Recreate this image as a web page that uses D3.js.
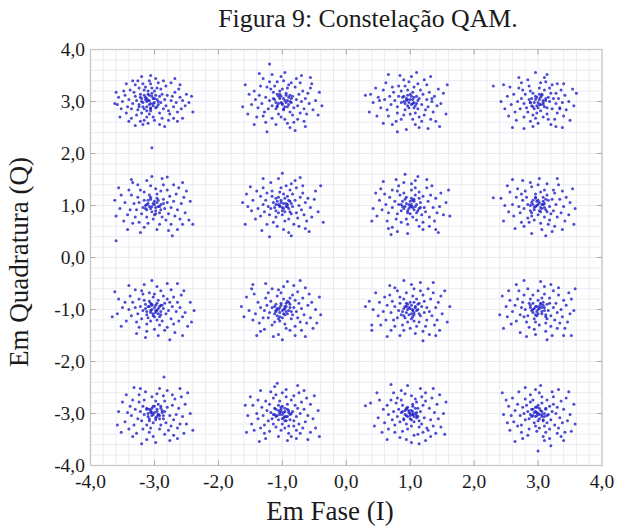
<!DOCTYPE html>
<html>
<head>
<meta charset="utf-8">
<script src="https://cdn.jsdelivr.net/npm/d3@7"></script>
<style>
  body { margin: 0; background: #fff; }
  svg text { font-family: "Liberation Serif", "Times New Roman", serif; fill: #1a1a1a; }
</style>
</head>
<body>
<svg id="chart" width="618" height="528"></svg>
<script>
// constellation levels and axis ticks
const iLevels = [-3, -1, 1, 3]
const qLevels = [3, 1, -1, -3]
const majorTicks = [-4, -3, -2, -1, 0, 1, 2, 3, 4]

// received symbols around each ideal point, as (dI, dQ) pairs in hundredths
const n_m3_p3 = [-10,2, -6,-4, -14,8, -2,6, -18,-2, -8,12, -12,-10, 0,-2, -4,16, -20,6, -16,-14, 4,4, -24,-6, -10,20, 2,-12, -6,-18, 8,10, -22,14, -28,2, 6,-6, -12,0, -2,-8, -16,22, 10,-2, -26,-16, -8,-24, 12,14, -30,10, 14,-14, -4,26, -20,-22, 16,4, -34,-4, 0,20, -14,28, 18,-8, -32,18, 8,-22, -2,-30, 20,12, -36,-14, -24,26, 22,-18, -12,-30, 4,26, 26,2, -40,4, 10,24, -28,-26, 24,-24, -18,34, 28,10, -6,34, -38,22, 30,-10, -16,-36, 12,-32, -42,-10, 32,18, -30,32, 0,-36, 34,-2, -46,12, 18,30, -22,-38, 36,-20, -8,40, -44,-22, 6,36, 40,8, -36,-32, 22,-36, -26,40, 42,-14, -50,0, 14,40, -10,-42, 38,24, -48,20, 30,-32, -52,-14, 44,2, -34,40, 2,44, -18,-44, 48,-8, -56,8, 26,36, -40,-38, 50,14, 8,-44, -58,-6, 36,-38, -44,34, 54,-2, -20,48, 16,-48, -60,18, 58,10, -30,-46, 40,32, -6,50, -54,-30, 60,-20, 44,-32, -62,-4, 32,44, -4,-89, -24,-10, 2,12, -12,6, -6,-12,
  -8,-6, -14,4, -4,10, -18,-10, 0,6, -10,14, -20,0, -6,-14, 6,0, -16,12, -2,-4, -12,-18, 4,-10, -22,8, -8,2]
const n_m1_p3 = [4,2, -6,-4, 10,8, -2,10, 8,-10, -12,4, 0,-6, 14,-2, -8,14, 6,16, -16,-8, 2,-16, 16,10, -10,-14, 18,-12, -4,20, 12,-20, -20,2, 22,4, -14,18, 0,24, 24,-8, -22,-14, 8,26, -6,-24, 26,14, -26,8, 16,-26, -18,24, 30,0, -2,-30, 10,32, -28,-20, 28,-22, -12,30, 32,20, -32,-4, 20,28, 4,-34, -24,28, 34,-14, -16,-32, 14,36, -36,12, 36,6, -30,-28, 24,-34, -8,38, 38,-24, -38,-12, 2,40, 40,16, -20,38, 18,-40, -42,4, 28,36, -34,30, 42,-4, -26,-40, 8,-42, -44,20, 44,26, -10,-44, 34,-38, -40,-30, 22,44, 48,-16, -48,-6, -2,48, 46,34, -30,44, 12,-50, -52,14, 52,2, -16,52, 36,-48, -54,-24, 30,50, 56,-26, -44,-44, 4,56, -58,32, 58,18, 20,-56, -62,-10, 62,-8, -24,-58, 44,46, -36,54, -20,72, 6,-2, -4,6, 12,0, -8,-10,
  2,6, -2,-2, 8,2, -6,10, 10,-6, -10,-2, 4,-10, 14,6, -4,14, 0,-4, 6,12, -8,-8, 12,12, -14,6, 2,-14]
const n_1_p3 = [-6,2, 2,-6, -10,10, 6,8, -2,-12, 10,-4, -14,-2, 0,14, 14,6, -8,-16, 4,18, -18,10, 12,-14, -4,22, 18,-6, -20,-10, 8,-22, 20,14, -14,20, -24,2, 0,-24, 16,22, 24,-16, -10,-26, 26,4, -26,18, 6,28, -20,-22, 28,-10, -8,30, 14,-30, -30,-6, 30,18, -18,30, 22,-26, -32,10, 4,-34, 34,0, -14,-34, 12,34, -36,-16, 36,-20, -28,28, 26,32, -2,38, -34,-28, 38,10, 18,-38, -40,4, -22,-38, 32,-34, -10,42, 42,-8, -42,22, 8,-44, 22,42, -38,36, 44,24, -46,-12, -28,-44, 40,-38, 2,48, -50,8, 48,-4, 14,-50, -16,50, -52,-28, 52,16, 32,48, -42,-42, -54,26, 28,-52, 56,-24, -6,-54, -58,-2, 10,56, -34,52, 58,32, -62,14, 46,-48, -64,-20, -20,-58, -70,12, -48,2, 34,6, -4,4, 6,-2,
  -2,-2, 4,4, -6,6, 8,-8, -10,0, 2,10, 10,10, -4,-8, 6,-12, -12,8, 0,4, -8,-4, 12,2, 4,-4, -4,12]
const n_3_p3 = [2,4, -6,-2, 8,-6, -4,10, 12,6, -10,-8, 0,-12, 6,14, -14,4, 14,-12, -8,16, 18,0, -18,-12, 4,-18, 20,16, -12,20, -22,-4, 10,22, 22,-14, -2,-22, -20,14, 24,6, -16,-20, 14,-24, 2,26, -26,6, 28,-4, -8,-26, 18,26, -24,22, 28,16, -28,-14, 8,-30, 30,-22, -14,30, -32,0, 22,32, 32,6, -4,-32, -22,-30, 16,-34, 34,-12, -30,26, 4,36, 36,22, -36,-20, 26,-34, -12,-38, -38,14, 38,-2, 12,38, -26,36, 40,-28, -42,-6, 30,34, 0,-42, -34,-36, 42,12, -16,42, 20,-44, -44,28, 44,-16, 40,34, -46,-28, 10,46, -8,-48, 48,0, -48,10, 28,-48, -30,46, 50,-36, -52,-14, 14,52, -22,-52, 54,24, -54,32, 38,-50, -4,56, -58,0, 56,-8, -40,-50, 34,-14, -70,30, 60,16, -12,-2, 8,2, -2,8, 2,-6,
  0,-2, 4,8, -4,4, 8,-2, -8,-10, 6,12, 10,-10, -2,-8, -10,6, 2,14, 12,2, -6,-14, 4,-6, -12,-2, 16,8]
const n_m3_p1 = [-4,-2, 4,6, -10,4, 2,-10, -12,-8, 10,2, -6,12, 8,-14, -16,10, 14,12, -18,-4, 0,-18, 16,-6, -8,20, -20,-16, 20,6, 4,22, -24,6, 12,-22, -12,-22, 22,-16, -26,16, 24,18, -2,-26, -28,-8, 10,28, -16,26, 26,-4, 18,-28, -30,-22, 30,8, -22,30, 2,32, -32,4, 32,-20, -10,-34, 20,30, -36,20, 34,22, -24,-32, 8,-36, 36,-8, -38,-8, -6,38, 26,-36, 38,34, -34,-34, 40,-26, -40,30, 14,40, -42,-18, -16,-42, 42,4, -26,40, 44,-36, -46,6, 30,40, 4,-46, 46,16, -34,44, -48,-30, 22,-48, 48,-14, -12,48, -52,20, 50,28, -22,-52, 36,-46, -54,-6, 12,52, 54,-28, -56,34, 56,8, -42,-46, 44,44, -60,-20, -4,56, 60,-36, 20,55, -36,50, -62,10, -60,-68, 28,-58, -6,-6, 6,-2, 0,8, -14,0,
  -2,4, 2,-4, -8,-2, 6,10, -10,10, 10,-8, -4,-12, 0,2, 14,4, -14,-6, 4,14, -6,16, 8,-2, -12,2, 2,-16]
const n_m1_p1 = [0,-4, 6,4, -6,2, -2,10, 10,-6, -10,-10, 4,-12, 12,8, -14,6, -6,16, 16,-2, 0,-18, -18,-6, 14,-16, 8,18, -16,18, 20,10, -22,-2, 2,22, -10,-22, 22,-14, -20,-18, 16,22, -26,10, 26,0, -4,26, 10,-26, -28,-12, 28,16, -16,28, 24,-24, -24,24, 4,-30, 30,-8, -30,2, 12,30, -14,-32, 32,24, -34,-20, -2,34, 34,-18, -34,18, 18,-36, 22,34, -24,-36, 36,6, -38,-6, 6,38, 38,-30, -30,34, -8,-40, 40,14, -42,-26, 26,-40, 14,42, -40,28, 44,-4, -46,10, 32,38, -18,44, 2,-46, 46,-22, -48,-10, 36,-44, -50,36, 20,48, -32,-48, 50,12, 10,-52, -54,-2, -6,52, 52,28, -56,22, 42,-50, -30,52, 56,-12, -58,-36, 28,54, 14,-58, -62,6, 60,38, -20,-60, 64,-32, 0,62, -4,0, 8,-2, -10,14,
  2,4, -4,-2, 6,-2, -8,8, 0,-10, 10,10, -12,-4, 4,14, 12,-12, -6,-14, -2,6, 8,2, -10,2, 14,4, 2,-6]
const n_1_p1 = [-2,2, 4,-4, -8,-2, 6,8, -4,-10, 10,2, -12,8, 2,14, 12,-10, -14,-10, -6,16, 16,6, 0,-16, -18,2, 18,-18, 8,20, -16,20, 22,-4, -20,-16, 4,-22, 20,18, -24,8, -10,24, 24,-12, -6,-26, 14,26, -28,-4, 28,8, -22,-26, 10,-28, -20,28, 30,-22, 2,30, -32,16, 32,20, -14,-32, 20,-32, -34,-14, 8,34, -28,30, 36,-4, -4,-36, 26,34, -38,2, 38,-30, -18,38, 14,-40, -36,-30, 40,14, -40,22, 2,42, 30,-40, -28,-42, 42,-14, -10,44, -44,-8, 34,38, 20,-46, -46,32, 46,-2, -34,-44, 8,48, -48,10, 48,24, -20,-50, 40,-46, -22,50, -52,-20, 52,-18, 26,50, -4,-54, -54,24, 56,6, -42,46, 44,-52, -58,-6, 12,56, -30,-56, 60,30, -60,-30, -8,60, 62,-20, 0,-2, -12,-2, 14,-6, 6,12,
  2,2, -2,-6, -6,4, 8,-2, 4,10, -10,-6, 10,-14, 0,8, -4,-14, 14,14, -14,2, 6,-8, -8,12, 2,-2, 16,-4]
const n_3_p1 = [0,2, -6,-4, 6,-6, -2,8, 10,4, -10,6, 4,-12, 12,-8, -12,-10, -4,14, 16,10, -16,2, 8,16, 0,-18, 18,-2, -18,16, -10,-20, 20,-16, 14,20, -22,-6, -4,22, 22,12, 10,-22, -24,10, -16,-24, 24,-10, 4,26, -26,22, 26,24, -28,-14, 18,-28, -6,-28, 28,2, -20,28, 10,30, -30,-2, 30,-22, -14,-32, 24,30, -34,16, 4,-34, 34,12, -26,-32, -10,36, 36,-14, 16,-36, -38,-20, 38,28, -32,32, 0,40, 40,-2, -40,2, 26,-40, -22,-40, 14,42, 42,-30, -44,26, -12,44, 44,16, 6,-46, -46,-12, 32,40, -36,-44, 48,-18, -48,38, -24,48, 50,6, 22,-50, -52,0, 2,52, 38,-46, -10,-54, 54,32, -54,-30, 30,52, -40,50, 56,-36, -58,14, 58,-6, -70,15, 12,-58, -4,-2, 8,2, -8,2,
  -2,0, 2,6, 6,2, -6,-8, 10,-4, -8,10, 2,-10, 12,12, -12,0, 4,-4, -4,16, 14,-12, 0,10, -10,-14, 8,8]
const n_m3_m1 = [-4,0, 4,-2, -8,6, 2,8, -2,-8, 8,6, -12,-4, 10,-10, -6,12, 14,2, -14,10, 0,-14, -10,-16, 16,12, 6,18, -18,-2, 18,-8, -16,18, 4,-20, 20,20, -22,6, -6,-22, 22,-2, -20,-18, 12,-22, -2,24, 24,14, -26,-8, 14,26, -24,20, 26,-18, -12,-28, 28,6, 0,30, -30,4, 8,-30, -18,30, 30,24, -28,-24, 30,-28, -8,32, -34,14, 20,-34, 34,-4, -24,-34, 10,36, 36,14, -36,-12, -20,36, 38,-22, 0,-38, -38,26, 26,38, -40,0, 16,-40, 40,4, -30,38, -12,-42, 42,28, -44,-22, 4,44, 44,-14, -46,14, 32,-44, -28,-46, 46,36, -16,48, 48,-6, -50,4, 20,50, 6,-50, -52,-32, 52,-32, -40,46, -56,20, 56,14, -14,-54, 36,50, -58,-8, 58,-24, -62,34, 24,-58, -4,56, 62,-2, -66,-14, 44,-50, -6,-6, 10,8, -4,10, 2,-2,
  0,4, -6,-2, 6,2, -2,-12, 10,-4, -10,6, 4,12, -12,-10, 12,8, 2,-6, -8,16, 8,-14, -14,2, 6,-8, -4,8]
const n_m1_m1 = [2,0, -4,-6, 6,6, -8,2, 4,-10, 10,-2, -10,10, -2,12, 12,10, -12,-8, 0,-16, 16,-10, -16,4, 8,16, -6,-18, 18,4, -18,16, 14,-18, -20,-6, 2,20, 20,18, -4,-22, -22,-16, 22,-4, 12,22, -24,8, -12,-24, 24,-16, -8,26, 26,12, -28,-2, 4,-28, 16,28, -26,22, 28,-24, -16,-30, 30,2, -30,-16, -2,32, 32,22, 20,-32, -34,4, -22,32, 34,-10, 6,-36, -36,-26, 24,34, -6,38, 38,-26, -38,14, 12,-40, -28,-38, 40,8, -16,40, 42,30, -42,-8, 30,-40, 2,44, -44,30, 44,-16, -34,-42, 18,46, -46,-20, 46,14, -6,-48, 36,42, -48,40, 48,-36, -26,50, 20,-50, -52,-2, 52,0, -14,-52, 8,54, -56,24, 54,-26, 36,-52, -40,-50, 58,24, 28,56, -60,-14, 0,-58, -46,48, 60,-10, -64,6, -4,4, 6,-4, -10,-2,
  0,-2, 4,6, -6,0, 8,-8, -2,8, -8,-12, 12,4, 2,-8, -12,6, 6,12, 14,-4, -4,-14, 10,14, -10,-4, 4,2]
const n_1_m1 = [-2,4, 4,-2, -6,-6, 8,6, -4,10, 6,-10, -10,2, 12,0, 0,14, -14,-10, 14,12, -8,-16, 16,-12, -16,12, 2,-18, 18,6, -18,-2, 10,20, -10,20, 22,-6, -20,-16, 6,-22, 22,16, -24,6, -4,-24, 14,-24, -16,24, 26,4, 4,26, -26,-20, 26,-20, -28,16, 20,28, -12,-30, 30,-4, -30,-6, 10,-32, -6,32, 32,20, -32,28, 24,-32, -24,-32, 34,-12, 0,-36, 16,36, -36,8, 36,32, -20,36, -38,-20, 38,-30, 6,40, -10,-40, 40,4, -40,24, 28,40, -30,-40, 42,-20, -42,-4, 20,-42, -24,42, 44,14, 8,-46, -46,-30, 46,-40, 2,48, -48,14, 48,26, -32,46, 30,-48, -50,-12, -16,-50, 50,-8, 16,52, -54,32, 54,36, -36,-52, 40,-50, -58,0, 58,-24, -10,56, 36,52, -60,-40, -64,16, 62,6, -70,6, -60,-30, 20,-60, 4,0, -6,6, 2,-8,
  0,2, 6,-6, -4,0, 2,8, -8,6, 10,-2, -2,-10, 12,10, -12,-4, 6,14, 4,-14, -6,12, 14,-8, -10,-12, 8,4]
const n_3_m1 = [0,0, -4,6, 6,-4, -8,-6, 4,10, 10,4, -12,4, -2,-12, 12,-10, -14,12, 8,14, 16,-2, -16,-12, 0,18, -6,-18, 18,12, 14,-18, -20,0, -12,20, 20,-12, -22,-14, 6,22, 24,4, -4,-24, -24,14, 18,22, 12,-26, -18,-24, 26,-20, -26,4, -8,28, 28,12, 2,-30, -28,-10, 10,30, 30,-6, -22,28, 20,-32, -32,20, 32,28, -14,-34, 34,-26, -34,-22, 0,36, 36,0, -36,8, 24,36, -6,-38, 38,-14, 30,-36, -30,36, -40,-4, 40,18, -16,40, 12,-42, -42,-28, 42,-36, 10,44, -44,18, 44,8, -28,-44, 32,42, -46,36, 46,-24, -4,-48, 20,48, -48,-14, 48,32, 22,-50, -34,48, 50,-8, -50,6, -18,-52, 52,20, 4,54, -54,-36, 40,-50, -56,26, 56,-2, -22,56, 14,-58, 58,40, -60,-10, 52,-50, -2,6, 6,4, -8,0,
  2,2, -2,-4, 6,-8, -6,2, 8,8, -10,-2, 4,12, 10,-2, -4,-10, -8,12, 14,10, 0,-8, -12,8, 12,-14, 2,6]
const n_m3_m3 = [-2,-2, 4,4, -6,2, 2,-8, -10,-6, 8,-4, -4,10, 10,10, -12,8, -8,-14, 14,-10, 0,14, -16,-2, 16,4, -2,-18, -18,14, 18,-18, 6,18, -20,-14, 20,12, -12,-22, -22,4, 10,-22, 2,24, 24,-4, -24,22, -26,-10, 16,24, 26,-24, -6,-28, -16,26, 28,16, -30,8, 8,-30, 30,-12, -18,-30, -4,32, 32,28, -32,-22, 22,-32, -34,26, 14,34, 34,-2, -8,-36, -36,-4, 36,-28, -24,36, 28,36, -38,14, 4,38, -28,-38, 38,10, 16,-40, -40,-30, 40,-20, -14,42, 42,32, -42,2, 30,-42, -2,-44, 44,-6, -44,36, 20,44, -34,-44, 46,-38, -46,-16, 8,48, -22,48, 48,18, -50,22, 36,-48, -12,-50, 50,-20, 52,40, -52,-36, 24,-52, -32,50, -56,4, 56,0, 2,-56, 40,48, -58,-22, 60,-32, -20,-58, 15,70, -4,2, 6,-2, -8,8, 12,2,
  0,2, -4,-4, 6,-2, -6,6, 4,8, -10,0, 8,-10, 2,-12, 12,6, -8,-10, -2,14, 14,-4, -12,10, 4,-6, 10,14]
const n_m1_m3 = [2,2, -4,-2, 6,-6, -6,6, 0,-10, 8,8, -10,-6, 12,-2, -2,12, -12,10, 12,-12, 4,-14, 16,4, -16,-10, -6,16, 18,-14, -18,2, 8,18, 0,-20, 20,16, -20,18, -14,-20, 22,-6, -22,-14, 10,-24, -4,24, 24,10, -24,6, 18,-24, -10,-26, 14,26, 26,-20, -26,24, 4,-28, 28,0, -28,-22, -14,30, 30,22, -30,-4, 22,-32, -2,-32, 6,32, 32,-28, -32,12, -20,-34, 34,8, 18,34, -34,-28, 36,-16, -10,36, 10,-38, -38,26, 38,30, -38,-10, -28,-38, 28,-38, 0,40, 40,-4, -40,0, 26,40, -18,42, 14,-44, 44,18, -44,-32, -6,-44, 44,-36, -46,16, 34,44, 6,46, -34,44, 48,-10, -48,-20, 22,-48, -26,-48, 50,34, -50,32, 8,-52, -12,52, 52,-28, -54,-4, 40,-50, 24,54, -56,-36, 56,6, -36,-54, -58,16, 58,-44, -8,58, -14,-2, 4,-6, 10,2, -2,4,
  0,-2, 4,4, -4,2, 2,-8, -8,-4, 8,-6, -2,8, 10,6, -10,8, 6,-14, 14,0, -6,-12, 0,14, -12,-2, 4,10]
const n_1_m3 = [-2,2, 4,-2, -6,-4, 2,6, -8,6, 8,0, 0,-10, 10,-8, -10,-12, -4,12, 12,10, -14,2, 14,-14, 6,-16, -16,-16, 16,4, -12,16, 4,18, 18,-20, -18,8, -6,-20, 20,16, -20,-6, 10,22, -22,20, 22,-8, 2,-24, -24,-22, 24,24, -14,26, 14,-26, -26,4, 26,-28, 8,28, -28,-12, -4,-30, 30,10, -20,30, 28,-32, -30,26, 18,32, -12,-34, 32,-12, -34,-2, 2,34, 34,30, -34,-30, 20,-36, -24,-36, -36,16, 36,-24, -8,38, 12,-40, 38,2, -40,-18, 24,40, 40,-38, -26,40, -42,8, 6,-42, 42,18, -44,-36, 32,-44, -14,44, 44,-10, -16,-46, 46,36, -48,26, 16,48, -6,-50, 48,-26, -50,-8, 36,48, 24,-52, -36,-50, 52,0, -52,40, -4,54, 54,-40, 2,-56, -56,-24, 14,-58, 56,22, -30,56, -70,15, -62,20, 4,-2, -6,8, 10,-4,
  0,0, 4,4, -4,-6, 6,-6, -2,6, -8,-2, 10,2, 2,-12, -6,10, 8,10, -10,-10, 12,-6, 4,14, -12,4, 0,-4]
const n_3_m3 = [2,-2, -4,4, 6,4, -8,-4, 2,-10, 10,-6, -10,8, -2,12, 12,8, -14,-10, 8,-14, 16,-2, -16,4, 0,16, -6,-18, 18,14, 14,-18, -20,-12, -18,16, 20,-12, 6,20, -22,0, 22,4, -4,-24, -12,22, 24,18, 10,-24, -26,-22, -24,12, 26,-22, -8,26, 14,26, 2,-28, 28,0, -28,-4, 18,-30, -14,-30, 30,12, -20,28, 32,-28, 6,32, -32,-24, -32,18, 24,32, 34,-8, -2,-34, 12,-36, -36,6, 36,24, -26,-36, -12,36, 38,-18, 30,-38, -38,-16, 2,40, 40,8, -40,30, -16,-42, 22,42, 42,-36, -42,-4, 8,-44, -30,42, 44,30, -44,-32, 36,-44, -4,46, 46,-14, -46,14, 18,-48, -24,-48, 48,42, -48,-18, 32,46, 50,-2, -20,50, -50,26, 10,-52, 52,-34, -54,-2, 4,54, 40,-52, -56,40, 56,18, -36,-54, 58,-20, 0,-72, 20,-62, -4,-6, 6,-2, -2,2,
  0,0, -2,-4, 4,6, -6,2, 6,-6, 2,10, -10,-6, 10,0, -4,12, 8,-12, -8,8, 12,10, 0,-14, -12,-2, 14,-4]

const noiseByPoint = {
  "-3,3": n_m3_p3, "-1,3": n_m1_p3, "1,3": n_1_p3, "3,3": n_3_p3,
  "-3,1": n_m3_p1, "-1,1": n_m1_p1, "1,1": n_1_p1, "3,1": n_3_p1,
  "-3,-1": n_m3_m1, "-1,-1": n_m1_m1, "1,-1": n_1_m1, "3,-1": n_3_m1,
  "-3,-3": n_m3_m3, "-1,-3": n_m1_m3, "1,-3": n_1_m3, "3,-3": n_3_m3
}

// build the symbol list
var points = []
qLevels.forEach(q => {
  iLevels.forEach(i => {
    var off = noiseByPoint[i + "," + q]
    for (var k = 0; k < off.length; k += 2) {
      points.push({ i: i + off[k] / 100, q: q + off[k + 1] / 100 })
    }
  })
})

var svg = d3.select("#chart")

var x = d3.scaleLinear().domain([-4, 4]).range([90.5, 602])
var y = d3.scaleLinear().domain([-4, 4]).range([465.5, 49.5])

var fmt = v => d3.format(".1f")(v).replace(".", ",").replace("−", "-")

// minor grid every 0.2
var minor = x.ticks(40)
svg.append("g")
    .selectAll("line.gx")
    .data(minor)
    .enter().append("line")
    .attr("x1", d => x(d)).attr("x2", d => x(d))
    .attr("y1", y(4)).attr("y2", y(-4))
    .attr("stroke", "#ebebf3")
    .attr("stroke-width", 1)
svg.append("g")
    .selectAll("line.gy")
    .data(minor)
    .enter().append("line")
    .attr("y1", d => y(d)).attr("y2", d => y(d))
    .attr("x1", x(-4)).attr("x2", x(4))
    .attr("stroke", "#ebebf3")
    .attr("stroke-width", 1)

// frame
svg.append("rect")
    .attr("x", x(-4)).attr("y", y(4))
    .attr("width", x(4) - x(-4)).attr("height", y(-4) - y(4))
    .attr("fill", "none")
    .attr("stroke", "#c4c4c4")
    .attr("stroke-width", 1.2)

// inward tick marks on all four sides
var tl = 5
var ticks = svg.append("g").attr("stroke", "#a8a8a8").attr("stroke-width", 1)
majorTicks.slice(1, -1).forEach(t => {
  ticks.append("line").attr("x1", x(t)).attr("x2", x(t)).attr("y1", y(4)).attr("y2", y(4) + tl)
  ticks.append("line").attr("x1", x(t)).attr("x2", x(t)).attr("y1", y(-4)).attr("y2", y(-4) - tl)
  ticks.append("line").attr("y1", y(t)).attr("y2", y(t)).attr("x1", x(-4)).attr("x2", x(-4) + tl)
  ticks.append("line").attr("y1", y(t)).attr("y2", y(t)).attr("x1", x(4)).attr("x2", x(4) - tl)
})

// symbols
svg.append("g")
    .selectAll("circle")
    .data(points)
    .enter().append("circle")
    .attr("cx", d => x(d.i))
    .attr("cy", d => y(d.q))
    .attr("r", 1.5)
    .attr("fill", "#1e1ec8")
    .attr("fill-opacity", 0.8)

// tick labels
svg.append("g")
    .selectAll("text")
    .data(majorTicks)
    .enter().append("text")
    .attr("x", d => x(d))
    .attr("y", 488)
    .attr("text-anchor", "middle")
    .attr("font-size", 19.5)
    .text(fmt)

svg.append("g")
    .selectAll("text")
    .data(majorTicks)
    .enter().append("text")
    .attr("x", 85)
    .attr("y", d => y(d) + 6.5)
    .attr("text-anchor", "end")
    .attr("font-size", 19.5)
    .text(fmt)

// titles
svg.append("text")
    .attr("x", 368).attr("y", 27)
    .attr("text-anchor", "middle")
    .attr("font-size", 25.8)
    .text("Figura 9: Constelação QAM.")

svg.append("text")
    .attr("x", 330).attr("y", 520)
    .attr("text-anchor", "middle")
    .attr("font-size", 27)
    .text("Em Fase (I)")

svg.append("text")
    .attr("transform", "translate(28,262) rotate(-90)")
    .attr("text-anchor", "middle")
    .attr("font-size", 27)
    .text("Em Quadratura (Q)")
</script>
</body>
</html>
